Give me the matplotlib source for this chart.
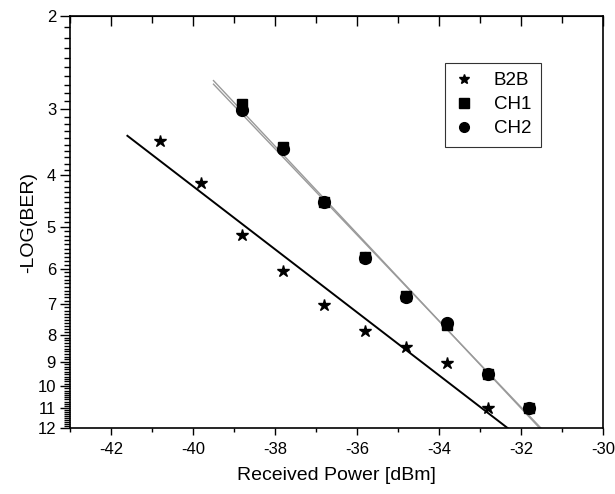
import numpy as np
import matplotlib
matplotlib.use("Agg")
from matplotlib import pyplot as plt
from matplotlib.ticker import FixedLocator, NullFormatter

plt.rcParams['font.family'] = ['Liberation Sans', 'DejaVu Sans']
plt.rcParams['axes.unicode_minus'] = False

# data
b2b_power = [-40.8, -39.8, -38.8, -37.8, -36.8, -35.8, -34.8, -33.8, -32.8]
b2b_ber = [3.45, 4.13, 5.18, 6.06, 7.03, 7.87, 8.43, 9.04, 11.0]

ch_power = [-38.8, -37.8, -36.8, -35.8, -34.8, -33.8, -32.8, -31.8]
ch1_ber = [2.93, 3.54, 4.49, 5.70, 6.76, 7.66, 9.48, 11.0]
ch2_ber = [3.01, 3.56, 4.49, 5.72, 6.78, 7.60, 9.50, 11.0]

# x range of the fitted lines
b2b_fit_range = [-41.6, -31.0]
ch_fit_range = [-39.5, -31.0]

y_major = [2, 3, 4, 5, 6, 7, 8, 9, 10, 11, 12]


def fitLine(x, y, xr):
    # straight line in log(-log BER) space
    p = np.polyfit(x, np.log10(y), 1)
    xs = np.array(xr)
    return xs, 10 ** np.polyval(p, xs)


fig = plt.figure(figsize=(6.15, 4.94), dpi=100)
ax = fig.add_axes([0.1138, 0.1336, 0.8667, 0.834])

ax.set_yscale('log')

xs, ys = fitLine(b2b_power, b2b_ber, b2b_fit_range)
ax.plot(xs, ys, color='black', lw=1.4)
xs, ys = fitLine(ch_power, ch1_ber, ch_fit_range)
ax.plot(xs, ys, color='#9a9a9a', lw=1.0)
xs, ys = fitLine(ch_power, ch2_ber, ch_fit_range)
ax.plot(xs, ys, color='#9a9a9a', lw=1.0)

ax.plot(b2b_power, b2b_ber, '*', color='black', ms=9, ls='none', label='B2B')
ax.plot(ch_power, ch1_ber, 's', color='black', ms=7, ls='none', label='CH1')
ax.plot(ch_power, ch2_ber, 'o', color='black', ms=8.5, ls='none', label='CH2')

ax.set_xlim(-43, -30)
ax.set_ylim(12, 2)

ax.xaxis.set_major_locator(FixedLocator(np.arange(-42, -29, 2)))
ax.xaxis.set_minor_locator(FixedLocator(np.arange(-43, -29, 1)))
ax.yaxis.set_major_locator(FixedLocator(y_major))
ax.yaxis.set_minor_locator(FixedLocator(np.arange(2, 12.01, 0.1)))
ax.set_yticklabels([str(v) for v in y_major])
ax.yaxis.set_minor_formatter(NullFormatter())

ax.tick_params(axis='x', which='both', direction='out', top=False, labelsize=12, width=1, pad=5)
ax.tick_params(axis='x', which='major', length=5)
ax.tick_params(axis='x', which='minor', length=3)
ax.tick_params(axis='y', which='both', direction='out', right=False, labelsize=12, width=1, pad=3)
ax.tick_params(axis='y', which='major', length=7)
ax.tick_params(axis='y', which='minor', length=4)

# top axis ticks point inward
ax2 = ax.secondary_xaxis('top')
ax2.xaxis.set_major_locator(FixedLocator(np.arange(-42, -29, 2)))
ax2.xaxis.set_minor_locator(FixedLocator(np.arange(-43, -29, 1)))
ax2.tick_params(which='both', direction='in', labeltop=False, width=1)
ax2.tick_params(which='major', length=7)
ax2.tick_params(which='minor', length=5)

for s in ax.spines.values():
    s.set_linewidth(1.2)

ax.set_xlabel('Received Power [dBm]', fontsize=14, labelpad=7)
ax.set_ylabel('-LOG(BER)', fontsize=14, labelpad=0)

leg = ax.legend(loc='upper left', bbox_to_anchor=(0.7036, 0.886), borderaxespad=0,
                fontsize=13.5, frameon=True, fancybox=False, edgecolor='black',
                handlelength=1.0, handletextpad=1.1, borderpad=0.5, labelspacing=0.36,
                numpoints=1)
leg.get_frame().set_linewidth(0.8)
for h in leg.legend_handles:
    h.set_markersize(7)

fig.savefig('out.png', dpi=100)
